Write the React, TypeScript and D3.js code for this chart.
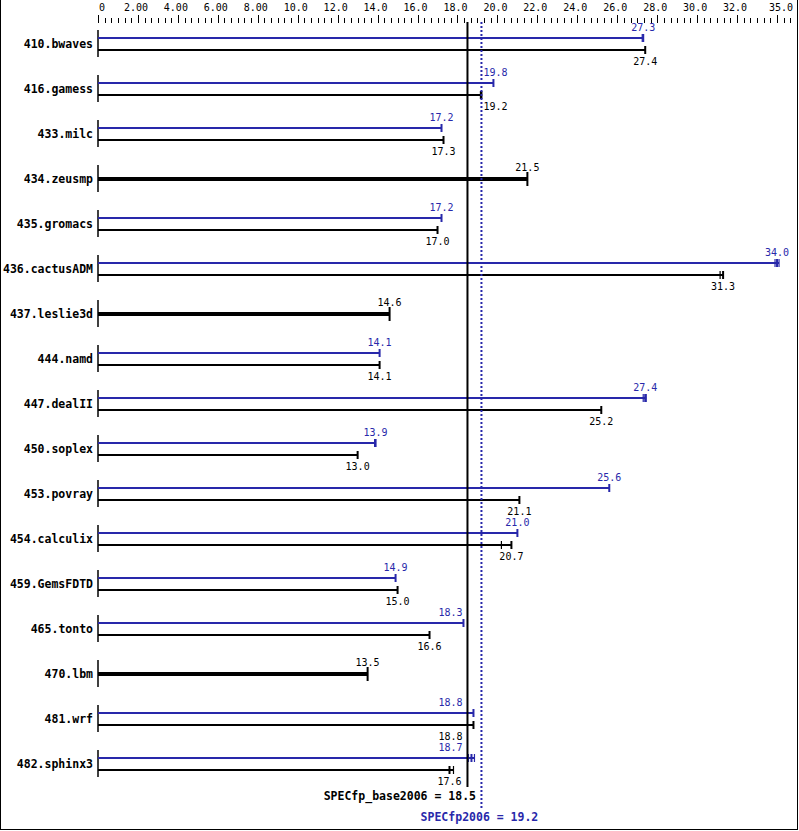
import React from "react";
import * as d3 from "d3";

const benchmarks = ["410.bwaves","416.gamess","433.milc","434.zeusmp","435.gromacs","436.cactusADM","437.leslie3d","444.namd","447.dealII","450.soplex","453.povray","454.calculix","459.GemsFDTD","465.tonto","470.lbm","481.wrf","482.sphinx3"];
const baseValues = [27.4,19.2,17.3,21.5,17.0,31.3,14.6,14.1,25.2,13.0,21.1,20.7,15.0,16.6,13.5,18.8,17.6];
const peakValues: (number|null)[] = [27.3,19.8,17.2,null,17.2,34.0,null,14.1,27.4,13.9,25.6,21.0,14.9,18.3,null,18.8,18.7];
const baseRuns: number[][] = [[],[19.15],[],[],[],[31.15],[],[],[],[],[],[20.2],[],[],[],[],[17.8]];
const peakRuns: number[][] = [[27.25],[],[],[],[],[33.9,34.1],[],[],[27.3,27.45],[13.85],[],[],[],[],[],[],[18.55,18.85]];
const tickValues = [0,2,4,6,8,10,12,14,16,18,20,22,24,26,28,30,32,35];
const tickLabels = ["0","2.00","4.00","6.00","8.00","10.0","12.0","14.0","16.0","18.0","20.0","22.0","24.0","26.0","28.0","30.0","32.0","35.0"];
const baseMean = 18.5;
const peakMean = 19.2;
const baseMeanLabel = "SPECfp_base2006 = 18.5";
const peakMeanLabel = "SPECfp2006 = 19.2";

const BLUE = "#2828aa";
const MONO = "'DejaVu Sans Mono', monospace";

export default function App() {
  const W = 799, H = 831;
  const x = d3.scaleLinear().domain([0, 35]).range([98, 797]);
  const y = d3.scalePoint<string>().domain(benchmarks).range([44, 764]);
  const minorTicks = d3.range(0, 35.001, 1 / 3);
  const bx = x(baseMean), px = x(peakMean);

  const valueLabel = (v: number, yy: number, color: string, key: string) => {
    const xe = x(v);
    let anchor: "middle" | "start" | "end" = "middle";
    let tx = xe;
    const half = 12;
    if (xe + half > bx - 2 && xe - half < px + 2) {
      if (v >= peakMean) { anchor = "start"; tx = px + 2; }
      else { anchor = "end"; tx = bx - 5; }
    }
    return <text key={key} x={tx} y={yy} textAnchor={anchor} fill={color} fontSize={10} fontFamily={MONO}>{v.toFixed(1)}</text>;
  };

  return (
    <svg width={W} height={H} style={{ position: "absolute", left: 0, top: 0, background: "#fff" }}>
      <rect x={0} y={0} width={W} height={H} fill="#fff" />
      {/* frame */}
      <line x1={0.5} y1={0} x2={0.5} y2={829.5} stroke="#000" />
      <line x1={797.5} y1={0} x2={797.5} y2={829.5} stroke="#000" />
      <line x1={0} y1={829.5} x2={798} y2={829.5} stroke="#000" />
      {/* top axis */}
      {minorTicks.map((t, i) => {
        const major = i % 6 === 0 || i === minorTicks.length - 1;
        const xx = Math.round(x(t)) + 0.5;
        return <line key={"mt" + i} x1={xx} x2={xx} y1={major ? 15 : 18} y2={23} stroke="#000" strokeWidth={1} />;
      })}
      {tickValues.map((t, i) => (
        <text key={"tl" + i}
          x={t === 35 ? 793 : t === 0 ? 102 : x(t) - 2}
          y={11}
          textAnchor={t === 35 ? "end" : "middle"}
          fontSize={10} fontFamily={MONO} fill="#000">{tickLabels[i]}</text>
      ))}
      {/* rows */}
      {benchmarks.map((b, i) => {
        const cy = y(b)!;
        const base = baseValues[i];
        const peak = peakValues[i];
        const els: React.ReactNode[] = [];
        els.push(<line key="ax" x1={98} x2={98} y1={cy - 14} y2={cy + 13} stroke="#000" strokeWidth={1.5} />);
        els.push(<text key="nm" x={93} y={cy + 4} textAnchor="end" fontSize={11.5} fontWeight="bold" fontFamily={MONO} fill="#000">{b}</text>);
        if (peak === null) {
          const xe = x(base);
          els.push(<line key="tb" x1={98} x2={xe} y1={cy} y2={cy} stroke="#000" strokeWidth={4} />);
          els.push(<line key="tt" x1={xe} x2={xe} y1={cy - 7} y2={cy + 7} stroke="#000" strokeWidth={2} />);
          els.push(<text key="tv" x={xe} y={cy - 8} textAnchor="middle" fontSize={10} fontFamily={MONO} fill="#000">{base.toFixed(1)}</text>);
        } else {
          const yp = cy - 6, yb = cy + 6;
          const pe = x(Math.max(peak, ...peakRuns[i]));
          const be = x(Math.max(base, ...baseRuns[i]));
          els.push(<line key="pb" x1={98} x2={pe} y1={yp} y2={yp} stroke={BLUE} strokeWidth={2} />);
          els.push(<line key="pt" x1={x(peak)} x2={x(peak)} y1={yp - 4} y2={yp + 4} stroke={BLUE} strokeWidth={2} />);
          peakRuns[i].forEach((r, k) => els.push(<line key={"pr" + k} x1={x(r)} x2={x(r)} y1={yp - 4} y2={yp + 4} stroke={BLUE} strokeWidth={1.2} />));
          els.push(<line key="bb" x1={98} x2={be} y1={yb} y2={yb} stroke="#000" strokeWidth={2} />);
          els.push(<line key="bt" x1={x(base)} x2={x(base)} y1={yb - 4} y2={yb + 4} stroke="#000" strokeWidth={2} />);
          baseRuns[i].forEach((r, k) => els.push(<line key={"br" + k} x1={x(r)} x2={x(r)} y1={yb - 4} y2={yb + 4} stroke="#000" strokeWidth={1.2} />));
          els.push(valueLabel(peak, cy - 13, BLUE, "pv"));
          els.push(valueLabel(base, cy + 21, "#000", "bv"));
        }
        return <g key={b}>{els}</g>;
      })}
      {/* means */}
      <line x1={bx} x2={bx} y1={22} y2={787} stroke="#000" strokeWidth={2} />
      <line x1={px} x2={px} y1={22} y2={808} stroke={BLUE} strokeWidth={2} strokeDasharray="2,2" />
      <text x={476} y={800} textAnchor="end" fontSize={11.5} fontWeight="bold" fontFamily={MONO} fill="#000">{baseMeanLabel}</text>
      <text x={px - 2} y={821} textAnchor="middle" fontSize={11.5} fontWeight="bold" fontFamily={MONO} fill={BLUE}>{peakMeanLabel}</text>
    </svg>
  );
}
